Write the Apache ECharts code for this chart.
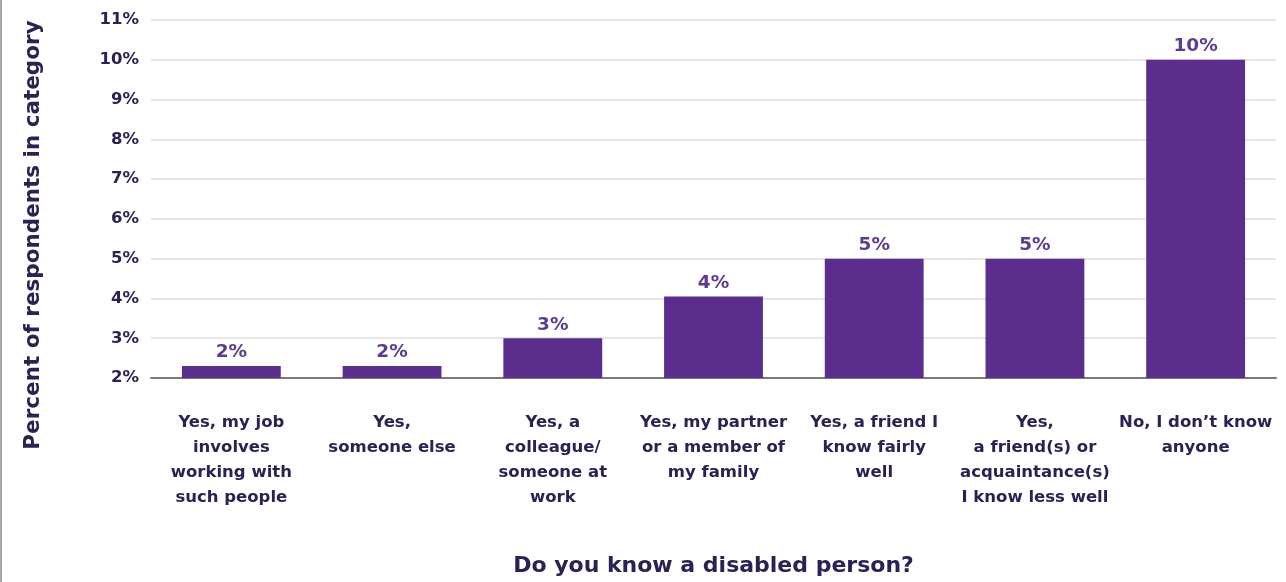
<!DOCTYPE html>
<html><head><meta charset="utf-8">
<script src="https://cdn.jsdelivr.net/npm/echarts@6/dist/echarts.min.js"></script>
<style>html,body{margin:0;padding:0;background:#fff}#c{width:1286px;height:582px}</style>
</head><body><div id="c"></div>
<script>
const categories = [
  "Yes, my job\ninvolves\nworking with\nsuch people",
  "Yes,\nsomeone else",
  "Yes, a\ncolleague/\nsomeone at\nwork",
  "Yes, my partner\nor a member of\nmy family",
  "Yes, a friend I\nknow fairly\nwell",
  "Yes,\na friend(s) or\nacquaintance(s)\nI know less well",
  "No, I don\u2019t know\nanyone"
];
const values = [2.3, 2.3, 3.0, 4.05, 5.0, 5.0, 10.0];
const valueLabels = ["2%", "2%", "3%", "4%", "5%", "5%", "10%"];
const yMin = 2, yMax = 11, yStep = 1;
const yTitle = 'Percent of respondents in category';
const xTitle = 'Do you know a disabled person?';

const FONT = 'DejaVu Sans';
const chart = echarts.init(document.getElementById('c'), null, {renderer: 'canvas'});
chart.setOption({
  animation: false,
  backgroundColor: '#fff',
  grid: {left: 151, right: 10, top: 20, bottom: 202},
  graphic: [
    {type: 'line', shape: {x1: 1, y1: 0, x2: 1, y2: 582}, style: {stroke: '#888', lineWidth: 1.5}},
    {type: 'text', x: 33, y: 235, rotation: Math.PI / 2,
     style: {text: yTitle, fontFamily: FONT, fontWeight: 'bold', fontSize: 21.5, fill: '#2b2152', align: 'center', verticalAlign: 'middle'}}
  ],
  xAxis: {
    type: 'category', data: categories,
    name: xTitle, nameLocation: 'middle', nameGap: 177,
    nameTextStyle: {fontFamily: FONT, fontWeight: 'bold', fontSize: 22, color: '#2b2152'},
    axisLine: {lineStyle: {color: '#7a7a7a', width: 2}},
    axisTick: {show: false},
    axisLabel: {interval: 0, margin: 32, fontFamily: FONT, fontWeight: 'bold', fontSize: 16.5, lineHeight: 25, color: '#2b2152', verticalAlign: 'top'}
  },
  yAxis: {
    type: 'value', min: yMin, max: yMax, interval: yStep,
    axisLine: {show: false}, axisTick: {show: false},
    axisLabel: {formatter: v => v + '%', margin: 12, fontFamily: FONT, fontWeight: 'bold', fontSize: 16.5, color: '#2b2152'},
    splitLine: {lineStyle: {color: '#e6e6e6', width: 2}}
  },
  series: [{
    type: 'bar', data: values, barWidth: '61.5%',
    itemStyle: {color: '#5b2d8c'},
    label: {show: true, position: 'top', distance: 4, formatter: p => valueLabels[p.dataIndex],
      fontFamily: FONT, fontWeight: 'bold', fontSize: 18.5, color: '#5e3a91'}
  }]
});
</script></body></html>
